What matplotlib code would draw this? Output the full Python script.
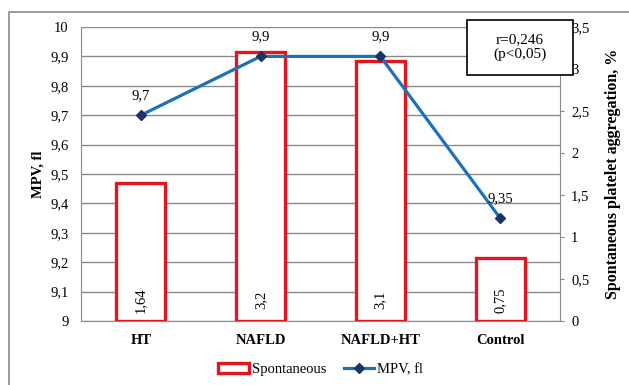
import matplotlib.pyplot as plt
from matplotlib.patches import Rectangle, Patch
from matplotlib.lines import Line2D

plt.rcParams['font.family'] = ['Liberation Serif', 'DejaVu Serif']

# ------------------------------
# Data
# ------------------------------
groups = ['HT', 'NAFLD', 'NAFLD+HT', 'Control']
spontaneous = [1.64, 3.2, 3.1, 0.75]      # spontaneous platelet aggregation, %
mpv = [9.7, 9.9, 9.9, 9.35]               # MPV, fl
mpv_ticks = [9, 9.1, 9.2, 9.3, 9.4, 9.5, 9.6, 9.7, 9.8, 9.9, 10]
agg_ticks = [0, 0.5, 1, 1.5, 2, 2.5, 3, 3.5]


def comma(v):
    return ('%g' % v).replace('.', ',')


red = '#e3151d'
blue = '#1c72b8'
navy = '#1b3463'
gray = '#8a8a8a'

fig = plt.figure(figsize=(6.29, 3.85), dpi=100)
rect = [81 / 629, 64 / 385, 479 / 629, 294 / 385]

# base axes: grid and left scale
base = fig.add_axes(rect)
base.set_ylim(9, 10)
base.set_xlim(-0.5, 3.5)
base.set_yticks(mpv_ticks)
base.set_yticklabels([comma(t) for t in mpv_ticks], fontsize=10.5)
base.tick_params(axis='y', length=0, pad=9)
base.grid(axis='y', color=gray, lw=1)
base.set_axisbelow(True)
x = list(range(len(groups)))
base.set_xticks(x)
base.set_xticklabels(groups, fontsize=10.5, fontweight='bold')
base.tick_params(axis='x', length=0, pad=9)
for s in ['top', 'right']:
    base.spines[s].set_visible(False)
base.spines['left'].set_color(gray)
base.spines['bottom'].set_color(gray)
base.set_ylabel('MPV, fl', fontsize=10.5, fontweight='bold', labelpad=4)

# bars on the right scale
bars_ax = base.twinx()
bars_ax.set_zorder(1)
bars_ax.patch.set_visible(False)
bars_ax.set_ylim(0, 3.5)
bars_ax.set_yticks(agg_ticks)
bars_ax.set_yticklabels([comma(t) for t in agg_ticks], fontsize=10.5)
bars_ax.tick_params(axis='y', length=3, color=gray, pad=5)
for s in ['top', 'left', 'bottom']:
    bars_ax.spines[s].set_visible(False)
bars_ax.spines['right'].set_color(gray)
bars_ax.bar(x, spontaneous, width=0.41, facecolor='white', edgecolor=red, lw=2.4)
for xi, v in zip(x, spontaneous):
    bars_ax.text(xi, 0.25, comma(v), rotation=90, ha='center', va='center', fontsize=10.5)
bars_ax.set_ylabel('Spontaneous platelet aggregation, %', fontsize=11.5,
                   fontweight='bold', labelpad=11)

# MPV line on top
line_ax = base.twinx()
line_ax.set_zorder(2)
line_ax.patch.set_visible(False)
line_ax.set_ylim(9, 10)
line_ax.axis('off')
line_ax.plot(x, mpv, color=blue, lw=2.3, marker='D', ms=5,
             markerfacecolor=navy, markeredgecolor=navy)
for xi, v in zip(x, mpv):
    line_ax.annotate(comma(v), (xi, v), xytext=(0, 14), textcoords='offset points',
                     ha='center', va='center', fontsize=10.5)

# correlation box
fig.patches.append(Rectangle((467 / 629, 1 - 75 / 385), 106 / 629, 55 / 385,
                             transform=fig.transFigure, facecolor='white',
                             edgecolor='black', lw=1.2, zorder=5))
fig.text(520 / 629, 1 - 47 / 385, 'r=0,246\n(p<0,05)', ha='center', va='center',
         fontsize=11, linespacing=1.2, zorder=6)

# chart frame
fig.lines.append(Line2D([9 / 629, 9 / 629, 1], [0, 1 - 12 / 385, 1 - 12 / 385],
                        transform=fig.transFigure, color=gray, lw=1.2))

# legend
handles = [Patch(facecolor='white', edgecolor=red, lw=2.4),
           Line2D([], [], color=blue, lw=2.3, marker='D', ms=5,
                  markerfacecolor=navy, markeredgecolor=navy)]
fig.legend(handles, ['Spontaneous', 'MPV, fl'], loc='center', bbox_to_anchor=(0.51, 0.04),
           ncol=2, frameon=False, fontsize=10.5, handlelength=2.1, handletextpad=0.2,
           columnspacing=1.2)

fig.savefig('out.png', dpi=100)
